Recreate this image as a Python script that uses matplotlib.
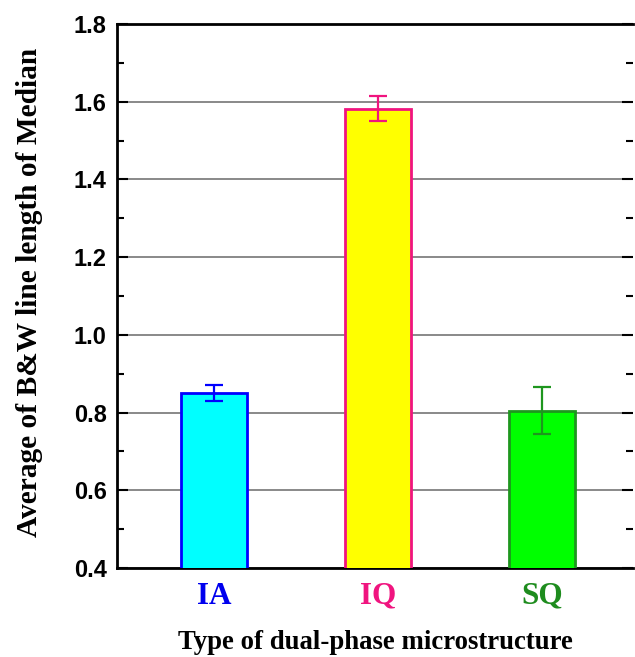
import numpy as np
import matplotlib.pyplot as plt
from matplotlib.ticker import MultipleLocator

# data
types = ['IA', 'IQ', 'SQ']
means = [0.850, 1.582, 0.805]
errs = [0.020, 0.032, 0.060]

faces = ['#00FFFF', '#FFFF00', '#00FF00']
edges = ['#0000FF', '#F0147F', '#1E961E']
labcols = ['#0000EE', '#F0147F', '#1E8C1E']

fig = plt.figure(figsize=(6.35, 6.57), dpi=100)
ax = fig.add_axes([117/635, 89/657, 516/635, 544/657])

x = np.arange(len(types))
ax.bar(x, means, width=0.4, bottom=0, color=faces, edgecolor=edges,
       linewidth=2, zorder=3)
for xi, m, e, c in zip(x, means, errs, edges):
	ax.errorbar(xi, m, yerr=e, fmt='none', ecolor=c, elinewidth=1.6,
	            capsize=6.3, capthick=1.6, zorder=4)

ax.set_xlim(-0.591, 2.555)
ax.set_ylim(0.4, 1.8)
ax.yaxis.set_major_locator(MultipleLocator(0.2))
ax.yaxis.set_minor_locator(MultipleLocator(0.1))
ax.grid(axis='y', which='major', color='#808080', linewidth=1.3, zorder=0)

ax.set_xticks(x)
ax.set_xticklabels(types, fontsize=22.5, fontweight='bold', family='Liberation Serif')
for t, c in zip(ax.xaxis.get_ticklabels(), labcols):
	t.set_color(c)
ax.tick_params(axis='x', length=0, pad=10)
ax.tick_params(axis='y', which='major', direction='in', length=8, width=1.5,
               right=True, labelsize=17, pad=7.5)
ax.tick_params(axis='y', which='minor', direction='in', length=5, width=1.5,
               right=True)
for t in ax.yaxis.get_ticklabels():
	t.set_fontweight('bold')
	t.set_family('Liberation Sans')
ax.yaxis.set_major_formatter(plt.FuncFormatter(lambda v, p: '%.1f' % v))

for s in ['left', 'bottom', 'top']:
	ax.spines[s].set_linewidth(2)
ax.spines['right'].set_visible(False)

ax.set_xlabel('Type of dual-phase microstructure', fontsize=19.3,
              fontweight='bold', family='Liberation Serif', labelpad=14)
ax.set_ylabel('Average of B&W line length of Median', fontsize=21.2,
              fontweight='bold', family='Liberation Serif')
ax.yaxis.set_label_coords(-0.143, 0.507)

plt.savefig('out.png', dpi=100)
